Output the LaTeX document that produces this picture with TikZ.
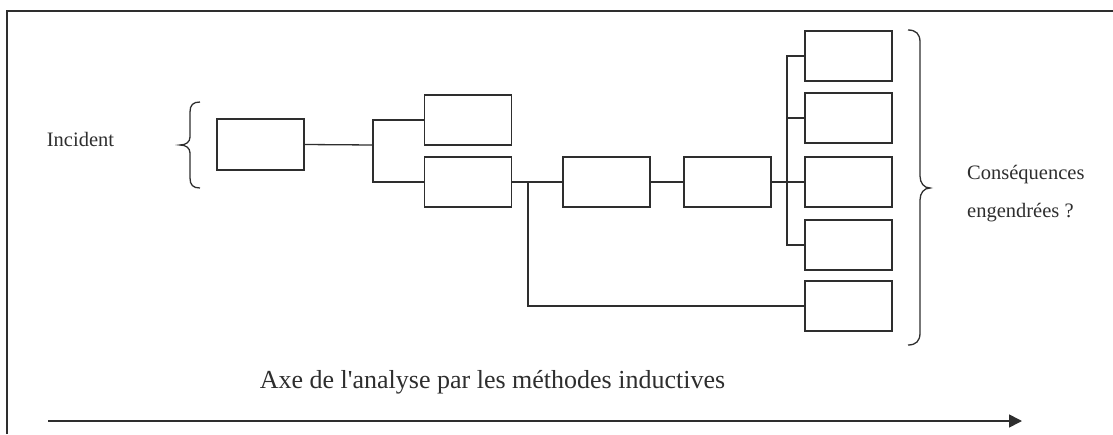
\documentclass[tikz,border=0pt]{standalone}
\usepackage{fontspec}
\setmainfont{Liberation Serif}
\usetikzlibrary{arrows.meta}
\definecolor{ink}{HTML}{2E2E2E}
\begin{document}
\begin{tikzpicture}[x=1pt,y=-1pt,
  boxn/.style={draw=ink,line width=1.5pt,minimum width=87pt,minimum height=50pt,inner sep=0pt},
  conn/.style={draw=ink,line width=1.3pt},
  thickconn/.style={draw=ink,line width=2.6pt},
  lbl/.style={text=ink,inner sep=0pt}]
\useasboundingbox (0,0) rectangle (1113,434);
% frame (top and left only)
\draw[ink,line width=1.3pt] (7,434) -- (7,11) -- (1113,11);
% boxes
\node[boxn,minimum height=51pt] (b0) at (260.5,144.5) {};
\node[boxn] (b1) at (468,120) {};
\node[boxn] (b2) at (468,182) {};
\node[boxn] (b3) at (606.5,182) {};
\node[boxn] (b4) at (727.5,182) {};
\node[boxn] (r1) at (848.5,56) {};
\node[boxn] (r2) at (848.5,118) {};
\node[boxn] (r3) at (848.5,182) {};
\node[boxn] (r4) at (848.5,245) {};
\node[boxn] (r5) at (848.5,306) {};
% junctions
\coordinate (j1) at (373,145);
\coordinate (j1a) at (373,120);
\coordinate (j1b) at (373,182);
\coordinate (j2) at (528,182);
\coordinate (j2b) at (528,306);
\coordinate (j3) at (787,182);
\coordinate (j3a) at (787,56);
\coordinate (j3m) at (787,118);
\coordinate (j3b) at (787,245);
% connectors
\draw[conn] (b0.east) -- (j1);
\draw[conn] (b1.west) -- (j1a) -- (j1b) -- (b2.west);
\draw[thickconn] (b2.east) -- (j2);
\draw[conn] (j2) -- (b3.west);
\draw[conn] (j2) -- (j2b) -- (r5.west);
\draw[conn] (b3.east) -- (b4.west);
\draw[thickconn] (b4.east) -- (j3);
\draw[conn] (r1.west) -- (j3a) -- (j3b) -- (r4.west);
\draw[conn] (j3m) -- (r2.west);
\draw[conn] (j3) -- (r3.west);
% left brace
\draw[ink,line width=1.3pt] (200,102) .. controls (193,102) and (190,105) .. (190,112) -- (190,137)
  .. controls (190,142) and (186,145) .. (180,145)
  .. controls (186,145) and (190,148) .. (190,153) -- (190,178)
  .. controls (190,185) and (193,188) .. (200,188);
% right brace
\draw[ink,line width=1.3pt] (908,30) .. controls (916,30) and (920,34) .. (920,42) -- (920,176)
  .. controls (920,183) and (924,188) .. (930,188)
  .. controls (924,188) and (920,193) .. (920,200) -- (920,333)
  .. controls (920,341) and (916,345) .. (908,345);
% texts
\node[lbl,font=\fontsize{20.5}{24}\selectfont] (inc) at (80.5,139) {Incident};
\node[lbl,anchor=west,align=left,font=\fontsize{20.5}{38}\selectfont] (cons) at (967,194) {Conséquences\\engendrées ?};
\node[lbl,font=\fontsize{26}{30}\selectfont] (axe) at (492.5,382) {Axe de l\textquotesingle analyse par les méthodes inductives};
% axis arrow
\coordinate (a0) at (48,421);
\coordinate (a1) at (1022,421);
\draw[ink,line width=1.6pt,-{Triangle[length=13pt,width=13pt]}] (a0) -- (a1);
\end{tikzpicture}
\end{document}
